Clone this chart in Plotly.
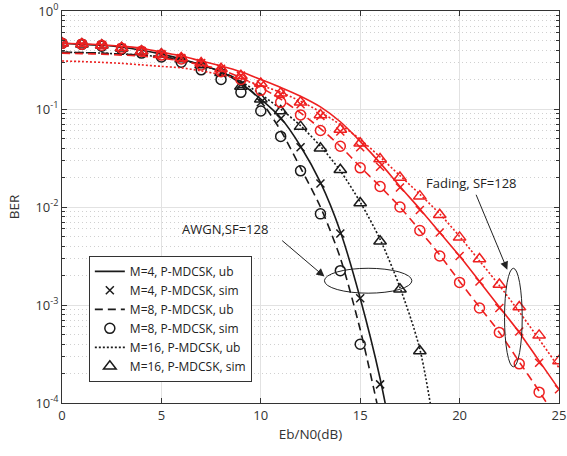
import plotly.graph_objects as go

# ---------------- data ----------------
snr_sim_m4_awgn = list(range(0, 17))
ber_sim_m4_awgn = [0.468, 0.457, 0.447, 0.417, 0.389, 0.355, 0.324, 0.282, 0.234, 0.178,
                   0.117, 0.0794, 0.0407, 0.0174, 0.00537, 0.00117, 0.000155]
snr_sim_m8_awgn = list(range(0, 16))
ber_sim_m8_awgn = [0.468, 0.457, 0.437, 0.407, 0.372, 0.339, 0.300, 0.251, 0.200, 0.148,
                   0.0955, 0.0525, 0.0234, 0.00851, 0.00224, 0.000398]
snr_sim_m16_awgn = list(range(0, 19))
ber_sim_m16_awgn = [0.468, 0.457, 0.447, 0.417, 0.389, 0.363, 0.324, 0.282, 0.234, 0.170,
                    0.126, 0.0955, 0.0661, 0.0398, 0.0240, 0.0110, 0.00447, 0.00145, 0.000339]

snr_ub_m4_awgn = list(range(0, 18))
ber_ub_m4_awgn = [0.468, 0.457, 0.447, 0.427, 0.398, 0.363, 0.324, 0.282, 0.240, 0.182,
                  0.126, 0.0813, 0.0417, 0.0178, 0.00562, 0.00117, 0.000178, 0.000016]
snr_ub_m8_awgn = list(range(0, 17))
ber_ub_m8_awgn = [0.380, 0.376, 0.372, 0.363, 0.355, 0.339, 0.316, 0.282, 0.240, 0.191,
                  0.120, 0.0603, 0.0251, 0.0100, 0.00302, 0.000562, 0.0000708]
snr_ub_m16_awgn = list(range(0, 20))
ber_ub_m16_awgn = [0.380, 0.376, 0.372, 0.363, 0.355, 0.339, 0.316, 0.282, 0.240, 0.191,
                   0.141, 0.100, 0.0676, 0.0417, 0.0234, 0.0112, 0.00468, 0.00151, 0.000355, 0.000025]

snr_sim_m4_fad = list(range(0, 26))
ber_sim_m4_fad = [0.468, 0.462, 0.447, 0.422, 0.389, 0.363, 0.331, 0.295, 0.257, 0.219,
                  0.178, 0.141, 0.112, 0.0851, 0.0589, 0.0407, 0.0257, 0.0158, 0.00933, 0.00550,
                  0.00316, 0.00174, 0.000933, 0.000537, 0.000257, 0.000138]
snr_sim_m8_fad = list(range(0, 25))
ber_sim_m8_fad = [0.468, 0.457, 0.447, 0.417, 0.389, 0.355, 0.324, 0.282, 0.240, 0.200,
                  0.155, 0.117, 0.0871, 0.0603, 0.0417, 0.0251, 0.0162, 0.0100, 0.00575, 0.00316,
                  0.00170, 0.000933, 0.000525, 0.000251, 0.000129]
snr_sim_m16_fad = list(range(0, 26))
ber_sim_m16_fad = [0.468, 0.462, 0.447, 0.422, 0.389, 0.363, 0.331, 0.295, 0.257, 0.219,
                   0.182, 0.145, 0.117, 0.0871, 0.0617, 0.0447, 0.0309, 0.0200, 0.0129, 0.00832,
                   0.00490, 0.00295, 0.00162, 0.000955, 0.000490, 0.000269]

snr_ub_fad = list(range(0, 26))
ber_ub_m4_fad = [0.468, 0.462, 0.452, 0.437, 0.417, 0.380, 0.347, 0.309, 0.275, 0.240,
                 0.200, 0.166, 0.135, 0.105, 0.0741, 0.0468, 0.0282, 0.0162, 0.00955, 0.00550,
                 0.00316, 0.00174, 0.000955, 0.000525, 0.000269, 0.000138]
ber_ub_m8_fad = [0.372, 0.367, 0.363, 0.355, 0.347, 0.331, 0.309, 0.282, 0.251, 0.209,
                 0.166, 0.126, 0.0912, 0.0631, 0.0417, 0.0257, 0.0162, 0.0100, 0.00575, 0.00324,
                 0.00174, 0.000955, 0.000525, 0.000263, 0.000132, 0.000063]
ber_ub_m16_fad = [0.309, 0.305, 0.299, 0.292, 0.282, 0.272, 0.263, 0.245, 0.224, 0.200,
                  0.174, 0.148, 0.120, 0.0933, 0.0692, 0.0490, 0.0324, 0.0209, 0.0135, 0.00851,
                  0.00501, 0.00282, 0.00158, 0.000851, 0.000447, 0.000229]

legend_names = ["M=4, P-MDCSK, ub", "M=4, P-MDCSK, sim",
                "M=8, P-MDCSK, ub", "M=8, P-MDCSK, sim",
                "M=16, P-MDCSK, ub", "M=16, P-MDCSK, sim"]
y_tick_vals = [1e-4, 1e-3, 1e-2, 1e-1, 1]
y_tick_text = ["10<sup>-4</sup>", "10<sup>-3</sup>", "10<sup>-2</sup>", "10<sup>-1</sup>", "10<sup>0</sup>"]
x_ticks = [0, 5, 10, 15, 20, 25]

# ---------------- style ----------------
BLACK = "#1a1a1a"
RED = "#ee2020"
FONT = "Open Sans"

fig = go.Figure()

def ub(x, y, color, dash, name=None, show=False):
    fig.add_trace(go.Scatter(x=x, y=y, mode="lines", name=name, showlegend=show,
                             line=dict(color=color, width=1.6, dash=dash, shape="spline", smoothing=0.8)))

def sim(x, y, color, symbol, size, name=None, show=False):
    fig.add_trace(go.Scatter(x=x, y=y, mode="markers", name=name, showlegend=show,
                             marker=dict(symbol=symbol, size=size, color=color,
                                         line=dict(color=color, width=1.5))))

# black (AWGN) with legend
ub(snr_ub_m4_awgn, ber_ub_m4_awgn, BLACK, "solid", legend_names[0], True)
sim(snr_sim_m4_awgn, ber_sim_m4_awgn, BLACK, "x-thin-open", 8, legend_names[1], True)
ub(snr_ub_m8_awgn, ber_ub_m8_awgn, BLACK, "8px,5px", legend_names[2], True)
sim(snr_sim_m8_awgn, ber_sim_m8_awgn, BLACK, "circle-open", 10, legend_names[3], True)
ub(snr_ub_m16_awgn, ber_ub_m16_awgn, BLACK, "2px,2px", legend_names[4], True)
sim(snr_sim_m16_awgn, ber_sim_m16_awgn, BLACK, "triangle-up-open", 11, legend_names[5], True)

# red (fading), drawn on top
ub(snr_ub_fad, ber_ub_m4_fad, RED, "solid")
sim(snr_sim_m4_fad, ber_sim_m4_fad, RED, "x-thin-open", 8)
ub(snr_ub_fad, ber_ub_m8_fad, RED, "8px,5px")
sim(snr_sim_m8_fad, ber_sim_m8_fad, RED, "circle-open", 10)
ub(snr_ub_fad, ber_ub_m16_fad, RED, "2px,2px")
sim(snr_sim_m16_fad, ber_sim_m16_fad, RED, "triangle-up-open", 11)

# ---------------- annotations ----------------
fig.add_annotation(x=8.2, y=-2.22, xref="x", yref="y", text="AWGN,SF=128", showarrow=False,
                   font=dict(family=FONT, size=13, color="#222"))
fig.add_annotation(x=20.6, y=-1.755, xref="x", yref="y", text="Fading, SF=128", showarrow=False,
                   font=dict(family=FONT, size=13, color="#222"))
fig.add_annotation(x=13.2, y=-2.71, ax=11.0, ay=-2.33, xref="x", yref="y", axref="x", ayref="y",
                   text="", showarrow=True, arrowhead=2, arrowsize=1.6, arrowwidth=1, arrowcolor="#222")
fig.add_annotation(x=22.4, y=-2.64, ax=20.8, ay=-1.86, xref="x", yref="y", axref="x", ayref="y",
                   text="", showarrow=True, arrowhead=2, arrowsize=1.6, arrowwidth=1, arrowcolor="#222")
fig.add_shape(type="circle", xref="x", yref="y", x0=13.2, x1=17.6, y0=0.00132, y1=0.00237,
              line=dict(color="#222", width=1))
fig.add_shape(type="circle", xref="x", yref="y", x0=22.26, x1=23.15, y0=0.000234, y1=0.00237,
              line=dict(color="#222", width=1))

fig.update_layout(
    width=567, height=456,
    margin=dict(l=62, r=8, t=11, b=53, autoexpand=False),
    paper_bgcolor="white", plot_bgcolor="white",
    font=dict(family=FONT, size=13, color="#333"),
    showlegend=True,
    legend=dict(x=0.054, y=0.054, xanchor="left", yanchor="bottom",
                bgcolor="white", bordercolor="#333", borderwidth=1,
                font=dict(family=FONT, size=12, color="#222"),
                tracegroupgap=0, itemwidth=30),
)
fig.update_xaxes(range=[0, 25], tickvals=x_ticks, ticks="inside", ticklen=5, tickcolor="#333",
                 showline=True, linecolor="#333", linewidth=1, mirror="allticks",
                 ticklabeloverflow="allow", automargin=False,
                 showgrid=True, gridcolor="#e2e2e2", gridwidth=1, zeroline=False,
                 title=dict(text="Eb/N0(dB)", font=dict(family=FONT, size=13.5, color="#333"), standoff=6))
fig.update_yaxes(type="log", range=[-4, 0], tickvals=y_tick_vals, ticktext=y_tick_text,
                 ticks="inside", ticklen=5, tickcolor="#333",
                 showline=True, linecolor="#333", linewidth=1, mirror="allticks",
                 ticklabeloverflow="allow", automargin=False,
                 showgrid=True, gridcolor="#e2e2e2", gridwidth=1, zeroline=False,
                 minor=dict(ticks="inside", ticklen=3, tickcolor="#333", dtick="D1",
                            showgrid=True, gridcolor="#d0d0d0", griddash="1px,3px", gridwidth=1),
                 title=dict(text="BER", font=dict(family=FONT, size=13.5, color="#333"), standoff=12))

fig.write_html("out.html", config={"displayModeBar": False},
               post_script="document.body.style.margin='0';document.body.style.overflow='hidden';")
